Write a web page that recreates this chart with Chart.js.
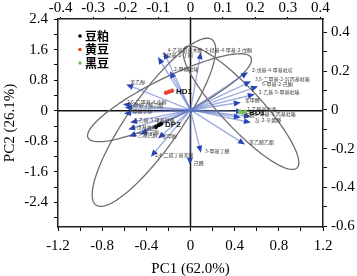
<!DOCTYPE html>
<html>
<head>
<meta charset="utf-8">
<script src="https://cdn.jsdelivr.net/npm/chart.js@4.4.1/dist/chart.umd.min.js"></script>
<style>
  html, body { margin: 0; padding: 0; background: #fff; }
  #pca { display: block; }
</style>
</head>
<body>
<canvas id="pca" width="357" height="276"></canvas>
<script>
// Sample groups (scores, PC1 / PC2)
const groupNames = ['豆粕', '黄豆', '黑豆'];
const groupColors = ['#000000', '#e8412c', '#72c25e'];
const dpX = [-0.312, -0.285, -0.267];
const dpY = [-0.42, -0.37, -0.34];
const hdX = [-0.222, -0.195, -0.168];
const hdY = [0.472, 0.498, 0.525];
const bdX = [0.448, 0.475, 0.494];
const bdY = [-0.026, -0.052, -0.026];
const pointLabels = ['DP2', 'HD1', 'BD1'];

// Loadings (top / right axes)
const loadingNames = [
    '3-羟基-2-丁酮', '4-乙基愈创木酚', '2-甲基吡嗪', '苯乙醇', '2,6-二甲基-4-庚醇',
    '2-甲基丁酸乙酯', '3-甲基丁醇', '2-乙基-3-甲基吡嗪', '2-戊基呋喃', '2-乙基己醇',
    '正己醇', '苯甲醇', '2,4-二叔丁基苯酚', '己醛', '3-羟基-4-甲基-2-戊酮',
    '2-戊基-4-甲基吡啶', '3,5-二甲基-2-异丙基吡嗪', '5-甲基-2-己酮', '2-乙基-5-甲基吡嗪', '苯甲醛',
    '2-乙酰基吡咯', '2-甲基-3-丙基吡嗪', '壬醛', '反-2-辛烯醛', '苯乙酸乙酯', '3-甲基丁醛'
];
const loadingPC1 = [
    -0.100, -0.082, -0.063, -0.198, -0.208, -0.202, -0.205, -0.186, -0.192, -0.189,
    -0.155, -0.100, -0.122, -0.002, 0.032, 0.177, 0.186, 0.208, 0.198, 0.155,
    0.162, 0.186, 0.155, 0.186, 0.168, 0.032
];
const loadingPC2 = [
    0.273, 0.299, 0.200, 0.132, 0.029, 0.013, -0.018, -0.065, -0.101, -0.138,
    -0.127, -0.148, -0.242, -0.283, 0.299, 0.195, 0.148, 0.122, 0.081, 0.039,
    -0.008, -0.034, -0.039, -0.065, -0.179, -0.221
];

// Confidence ellipses: centre and two half-axis vectors, in score units
const ellipseCX = [-0.331, -0.190, 0.457];
const ellipseCY = [-0.302, 0.341, 0.079];
const ellipseAX = [0.525, 0.738, 0.507];
const ellipseAY = [2.164, 1.049, -1.574];
const ellipseBX = [0.193, 0.080, 0.132];
const ellipseBY = [-0.393, -0.472, 0.357];

// Axis ticks
const pc1Ticks = [-1.2, -0.8, -0.4, 0, 0.4, 0.8, 1.2];
const pc1Minor = [-1.0, -0.6, -0.2, 0.2, 0.6, 1.0];
const pc2Ticks = [-2.4, -1.6, -0.8, 0, 0.8, 1.6, 2.4];
const pc2Minor = [-2.8, -2.0, -1.2, -0.4, 0.4, 1.2, 2.0];
const loadXTicks = [-0.4, -0.3, -0.2, -0.1, 0, 0.1, 0.2, 0.3, 0.4];
const loadYTicks = [-0.6, -0.4, -0.2, 0, 0.2, 0.4];
const loadYMinor = [-0.5, -0.3, -0.1, 0.1, 0.3];

const serif = "'Liberation Serif', 'Times New Roman', serif";
const cjk = "'Noto Sans CJK SC', sans-serif";

function toPoints(xs, ys) {
    return xs.map((x, i) => ({ x: x, y: ys[i] }));
}

function tickSetter(major, minor) {
    return scale => {
        scale.ticks = major.concat(minor || []).sort((a, b) => a - b).map(v => ({ value: v }));
    };
}

function tickLabel(major) {
    return value => major.includes(value) ? String(value) : '';
}

function axisStyle(extra) {
    return Object.assign({
        type: 'linear',
        grid: { drawOnChartArea: false, drawTicks: true, tickLength: 4, color: '#000', lineWidth: 1 },
        border: { display: true, color: '#222', width: 1.5 },
        ticks: { color: '#000', font: { family: serif, size: 15 }, padding: 5, autoSkip: false, maxRotation: 0 }
    }, extra);
}

// ellipses, loading arrows and zero lines under the points
const biplotLayers = {
    id: 'biplotLayers',
    beforeDatasetsDraw(chart) {
        const { ctx, chartArea, scales } = chart;
        const sx = scales.x, sy = scales.y, lx = scales.x2, ly = scales.y2;
        ctx.save();
        ctx.beginPath();
        ctx.rect(chartArea.left, chartArea.top, chartArea.right - chartArea.left, chartArea.bottom - chartArea.top);
        ctx.clip();

        // zero lines
        ctx.strokeStyle = '#111';
        ctx.lineWidth = 1.5;
        ctx.beginPath();
        ctx.moveTo(sx.getPixelForValue(0), chartArea.top);
        ctx.lineTo(sx.getPixelForValue(0), chartArea.bottom);
        ctx.moveTo(chartArea.left, sy.getPixelForValue(0));
        ctx.lineTo(chartArea.right, sy.getPixelForValue(0));
        ctx.stroke();

        // ellipses
        ctx.strokeStyle = '#6e6e6e';
        ctx.lineWidth = 1.3;
        ellipseCX.forEach((cx, i) => {
            ctx.beginPath();
            for (let k = 0; k <= 120; k++) {
                const t = k / 120 * Math.PI * 2;
                const vx = cx + ellipseAX[i] * Math.cos(t) + ellipseBX[i] * Math.sin(t);
                const vy = ellipseCY[i] + ellipseAY[i] * Math.cos(t) + ellipseBY[i] * Math.sin(t);
                const px = sx.getPixelForValue(vx), py = sy.getPixelForValue(vy);
                if (k === 0) ctx.moveTo(px, py); else ctx.lineTo(px, py);
            }
            ctx.closePath();
            ctx.stroke();
        });

        // loading arrows
        const ox = lx.getPixelForValue(0), oy = ly.getPixelForValue(0);
        loadingPC1.forEach((v, i) => {
            const tx = lx.getPixelForValue(v), ty = ly.getPixelForValue(loadingPC2[i]);
            const ang = Math.atan2(ty - oy, tx - ox);
            ctx.strokeStyle = 'rgba(96, 120, 205, 0.6)';
            ctx.lineWidth = 1.4;
            ctx.beginPath();
            ctx.moveTo(ox, oy);
            ctx.lineTo(tx - 4 * Math.cos(ang), ty - 4 * Math.sin(ang));
            ctx.stroke();
            ctx.fillStyle = '#2a44b4';
            ctx.beginPath();
            ctx.moveTo(tx, ty);
            ctx.lineTo(tx - 7 * Math.cos(ang) + 3 * Math.sin(ang), ty - 7 * Math.sin(ang) - 3 * Math.cos(ang));
            ctx.lineTo(tx - 7 * Math.cos(ang) - 3 * Math.sin(ang), ty - 7 * Math.sin(ang) + 3 * Math.cos(ang));
            ctx.closePath();
            ctx.fill();
        });
        ctx.restore();
    },
    afterDatasetsDraw(chart) {
        const { ctx, scales } = chart;
        const lx = scales.x2, ly = scales.y2, sx = scales.x, sy = scales.y;
        ctx.save();
        // loading labels
        ctx.fillStyle = '#3a3a3a';
        ctx.font = "5px " + cjk;
        ctx.textBaseline = 'middle';
        loadingNames.forEach((name, i) => {
            const tx = lx.getPixelForValue(loadingPC1[i]), ty = ly.getPixelForValue(loadingPC2[i]);
            ctx.fillText(name, tx + 4, ty - 2);
        });
        // sample labels
        ctx.fillStyle = '#111';
        ctx.font = "bold 8px 'Liberation Sans', sans-serif";
        [[dpX, dpY], [hdX, hdY], [bdX, bdY]].forEach((g, i) => {
            const last = g[0].length - 1;
            ctx.fillText(pointLabels[i], sx.getPixelForValue(g[0][last]) + 4, sy.getPixelForValue(g[1][last]) + 1);
        });

        // legend
        const ca = chart.chartArea;
        groupNames.forEach((name, i) => {
            const y = ca.top + 17 + i * 13.5;
            ctx.fillStyle = groupColors[i];
            ctx.beginPath();
            ctx.arc(ca.left + 22, y, 1.8, 0, Math.PI * 2);
            ctx.fill();
            ctx.fillStyle = '#000';
            ctx.font = "bold 12px " + cjk;
            ctx.fillText(name, ca.left + 27, y);
        });
        ctx.restore();
    }
};

new Chart(document.getElementById('pca'), {
    type: 'scatter',
    data: {
        datasets: [
            { label: groupNames[0], data: toPoints(dpX, dpY), backgroundColor: groupColors[0], borderColor: groupColors[0], pointRadius: 1.8, xAxisID: 'x', yAxisID: 'y' },
            { label: groupNames[1], data: toPoints(hdX, hdY), backgroundColor: groupColors[1], borderColor: groupColors[1], pointRadius: 1.8, xAxisID: 'x', yAxisID: 'y' },
            { label: groupNames[2], data: toPoints(bdX, bdY), backgroundColor: groupColors[2], borderColor: groupColors[2], pointRadius: 1.8, xAxisID: 'x', yAxisID: 'y' },
            { label: 'loadings', data: toPoints(loadingPC1, loadingPC2), pointRadius: 0, xAxisID: 'x2', yAxisID: 'y2' }
        ]
    },
    options: {
        responsive: false,
        animation: false,
        devicePixelRatio: 1,
        layout: { padding: 0 },
        plugins: { legend: { display: false }, tooltip: { enabled: false } },
        scales: {
            x: axisStyle({
                position: 'bottom', min: -1.2, max: 1.2,
                afterBuildTicks: tickSetter(pc1Ticks, pc1Minor),
                afterFit: s => { s.height = 49; },
                ticks: { color: '#000', font: { family: serif, size: 15 }, padding: 6, autoSkip: false, maxRotation: 0, callback: tickLabel(pc1Ticks) },
                title: { display: true, text: 'PC1 (62.0%)', color: '#000', font: { family: serif, size: 15 }, padding: { top: 0, bottom: -2 } }
            }),
            y: axisStyle({
                position: 'left', min: -3.04, max: 2.4,
                afterBuildTicks: tickSetter(pc2Ticks, pc2Minor),
                afterFit: s => { s.width = 58; },
                ticks: { color: '#000', font: { family: serif, size: 15 }, padding: 6, autoSkip: false, callback: tickLabel(pc2Ticks) },
                title: { display: true, text: 'PC2 (26.1%)', color: '#000', font: { family: serif, size: 15 }, padding: { top: 1, bottom: 0 } }
            }),
            x2: axisStyle({
                position: 'top', min: -0.408, max: 0.408,
                afterBuildTicks: tickSetter(loadXTicks),
                afterFit: s => { s.height = 19; },
                ticks: { color: '#000', font: { family: serif, size: 15 }, padding: 0, autoSkip: false, maxRotation: 0, callback: tickLabel(loadXTicks) },
                grid: { drawOnChartArea: false, tickLength: 2, color: '#000' }
            }),
            y2: axisStyle({
                position: 'right', min: -0.605, max: 0.47,
                afterBuildTicks: tickSetter(loadYTicks, loadYMinor),
                afterFit: s => { s.width = 34; },
                ticks: { color: '#000', font: { family: serif, size: 15 }, padding: 4, autoSkip: false, callback: tickLabel(loadYTicks) }
            })
        }
    },
    plugins: [biplotLayers]
});
</script>
</body>
</html>
